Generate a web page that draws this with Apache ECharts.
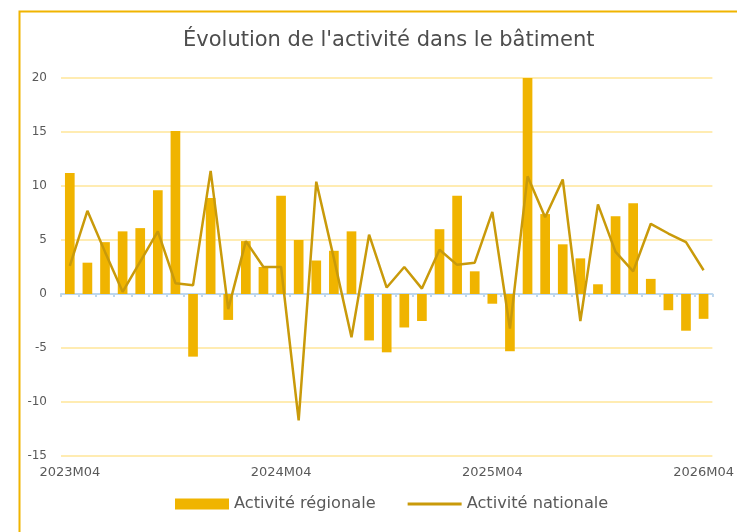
<!DOCTYPE html>
<html>
<head>
<meta charset="utf-8">
<title>Évolution de l'activité dans le bâtiment</title>
<script src="https://cdn.jsdelivr.net/npm/echarts@6/dist/echarts.min.js"></script>
<style>
  html, body { margin: 0; padding: 0; background: #fff; }
  #chart { width: 737px; height: 532px; }
</style>
</head>
<body>
<div id="chart"></div>
<script>
// mois de 2023M04 à 2026M04
const months = [];
for (let y = 2023; y <= 2026; y++) {
  for (let m = 1; m <= 12; m++) {
    if ((y === 2023 && m < 4) || (y === 2026 && m > 4)) continue;
    months.push(y + 'M' + (m < 10 ? '0' + m : m));
  }
}

const regionale = [
  11.2, 2.9, 4.8, 5.8, 6.1, 9.6, 15.1, -5.8, 8.9, -2.4, 4.9, 2.5,
  9.1, 5.0, 3.1, 4.0, 5.8, -4.3, -5.4, -3.1, -2.5, 6.0, 9.1, 2.1,
  -0.9, -5.3, 20.0, 7.4, 4.6, 3.3, 0.9, 7.2, 8.4, 1.4, -1.5, -3.4, -2.3
];

const nationale = [
  2.6, 7.7, 3.9, 0.2, 3.0, 5.8, 1.0, 0.8, 11.4, -1.4, 4.9, 2.5,
  2.5, -11.7, 10.4, 3.3, -4.0, 5.5, 0.6, 2.5, 0.5, 4.1, 2.7, 2.9,
  7.6, -3.2, 10.9, 7.1, 10.6, -2.5, 8.3, 3.9, 2.1, 6.5, 5.6, 4.8, 2.2
];

const font = 'DejaVu Sans';
const chart = echarts.init(document.getElementById('chart'));

const option = {
  backgroundColor: '#fff',
  animation: false,
  textStyle: { fontFamily: font },
  graphic: [{
    type: 'rect',
    shape: { x: 19.5, y: 11.5, width: 760, height: 560 },
    style: { fill: null, stroke: '#F0B400', lineWidth: 2 },
    silent: true
  }],
  title: {
    text: "Évolution de l'activité dans le bâtiment",
    left: 178,
    top: 25,
    textStyle: { color: '#4D4D4D', fontSize: 21, fontWeight: 'normal', fontFamily: font }
  },
  legend: {
    bottom: 15,
    left: 170,
    itemWidth: 54,
    itemHeight: 11,
    itemGap: 32,
    textStyle: { color: '#595959', fontSize: 16.2, fontFamily: font },
    data: [
      { name: 'Activité régionale', icon: 'rect' },
      { name: 'Activité nationale', icon: 'path://M0,0 L0,0 M0,4 L54,4 L54,7 L0,7 Z M54,11 L54,11' }
    ]
  },
  grid: { left: 61, right: 24, top: 78, bottom: 76 },
  xAxis: [
    {
      type: 'category',
      data: months,
      position: 'bottom',
      axisLine: { show: false, onZero: false },
      axisTick: { show: false },
      axisLabel: {
        interval: 11,
        color: '#595959',
        fontSize: 13,
        margin: 10
      }
    },
    {
      type: 'category',
      data: months,
      position: 'bottom',
      axisLine: { show: true, onZero: true, lineStyle: { color: '#BDD7EE', width: 2 } },
      axisTick: { show: true, interval: 0, length: 3, lineStyle: { color: '#BDD7EE', width: 2 } },
      axisLabel: { show: false }
    }
  ],
  yAxis: {
    type: 'value',
    min: -15,
    max: 20,
    interval: 5,
    axisLine: { show: false },
    axisTick: { show: false },
    axisLabel: { color: '#595959', fontSize: 12, margin: 14 },
    splitLine: { lineStyle: { color: '#FFE699', width: 1.5 } }
  },
  series: [
    {
      name: 'Activité régionale',
      type: 'bar',
      xAxisIndex: 0,
      data: regionale,
      barCategoryGap: '45%',
      itemStyle: { color: '#F0B400' }
    },
    {
      name: 'Activité nationale',
      type: 'line',
      xAxisIndex: 0,
      data: nationale,
      symbol: 'none',
      lineStyle: { color: '#C99A0A', width: 2.5 },
      itemStyle: { color: '#C99A0A' },
      z: 3
    }
  ]
};

chart.setOption(option);
</script>
</body>
</html>
